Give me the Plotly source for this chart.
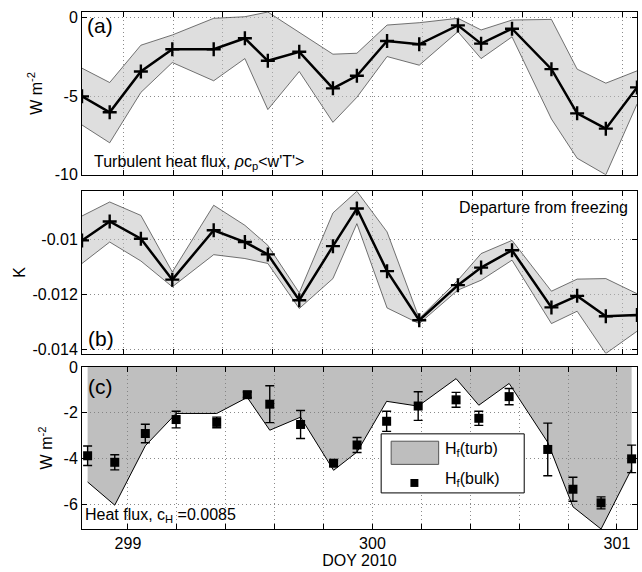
import plotly.graph_objects as go

# ---------------- data ----------------
doy = [298.835, 298.946, 299.071, 299.197, 299.363, 299.488, 299.580, 299.706, 299.841, 299.937,
       300.058, 300.187, 300.342, 300.435, 300.559, 300.717, 300.820, 300.935, 301.060]

turb_mean = [-5.02, -6.03, -3.44, -2.03, -2.03, -1.33, -2.76, -2.19, -4.51, -3.71,
             -1.50, -1.71, -0.51, -1.67, -0.72, -3.29, -6.10, -7.07, -4.45]
turb_upper = [-3.23, -4.14, -1.77, -1.12, -0.06, 0.04, 0.34, -0.97, -2.34, -2.28,
              -0.49, -0.34, -0.06, -0.80, -0.17, -0.13, -3.29, -4.18, -3.40]
turb_lower = [-6.84, -7.97, -4.77, -2.87, -4.03, -2.62, -5.86, -3.44, -6.67, -5.08,
              -2.49, -3.04, -0.91, -2.62, -1.24, -6.46, -8.95, -10.0, -5.51]

dT_mean = [-0.01004, -0.00935, -0.00998, -0.01147, -0.00967, -0.01010, -0.01055, -0.01222, -0.01025, -0.00888,
           -0.01116, -0.01295, -0.01167, -0.01103, -0.01040, -0.01248, -0.01206, -0.01280, -0.01276]
dT_upper = [-0.00915, -0.00864, -0.00913, -0.01119, -0.00876, -0.00949, -0.01022, -0.01195, -0.00904, -0.00825,
            -0.00973, -0.01288, -0.01149, -0.01052, -0.01004, -0.01189, -0.01145, -0.01143, -0.01198]
dT_lower = [-0.01088, -0.01010, -0.01079, -0.01173, -0.01056, -0.01070, -0.01088, -0.01252, -0.01143, -0.00943,
            -0.01250, -0.01307, -0.01185, -0.01149, -0.01076, -0.01307, -0.01262, -0.01416, -0.01335]

bulk_flux = [-3.875, -4.16, -2.905, -2.295, -2.42, -1.21, -1.625, -2.51, -4.20, -3.405,
             -2.37, -1.705, -1.435, -2.24, -1.295, -3.60, -5.335, -5.93, -4.01]
bulk_err = [0.425, 0.33, 0.405, 0.365, 0.23, 0.12, 0.805, 0.61, 0.12, 0.325,
            0.44, 0.625, 0.325, 0.31, 0.355, 1.15, 0.525, 0.26, 0.60]

x_grid_vals = [299.0, 299.2, 299.4, 299.6, 299.8, 300.0, 300.2, 300.4, 300.6, 300.8, 301.0]
x_grid_text = ["299", "", "", "", "", "300", "", "", "", "", "301"]
ya_ticks = [-10, -5, 0]
ya_text = ["-10", "-5", "0"]
yb_ticks = [-0.014, -0.012, -0.01]
yb_text = ["-0.014", "-0.012", "-0.01"]
yc_ticks = [-6, -4, -2, 0]
yc_text = ["-6", "-4", "-2", "0"]

# ---------------- layout constants ----------------
W, H = 642, 572
L, R, T, B = 82, 4, 9, 43
PW, PH = W - L - R, H - T - B
FONT = "Arial, Liberation Sans, sans-serif"


def px(xp):
    return (xp - L) / PW


def py(yp):
    return (H - B - yp) / PH


fig = go.Figure()

plus_marker = dict(symbol="cross-thin", size=10, line=dict(color="black", width=2.4))

# panel (a)
fig.add_trace(go.Scatter(x=doy, y=turb_lower, mode="lines", line=dict(color="#3a3a3a", width=0.7),
                         xaxis="x", yaxis="y", showlegend=False, hoverinfo="skip"))
fig.add_trace(go.Scatter(x=doy, y=turb_upper, mode="lines", line=dict(color="#3a3a3a", width=0.7),
                         fill="tonexty", fillcolor="rgba(190,190,190,0.5)",
                         xaxis="x", yaxis="y", showlegend=False))
fig.add_trace(go.Scatter(x=doy, y=turb_mean, mode="lines+markers",
                         line=dict(color="black", width=2.5), marker=plus_marker,
                         xaxis="x", yaxis="y", showlegend=False))

# panel (b)
fig.add_trace(go.Scatter(x=doy, y=dT_lower, mode="lines", line=dict(color="#3a3a3a", width=0.7),
                         xaxis="x2", yaxis="y2", showlegend=False))
fig.add_trace(go.Scatter(x=doy, y=dT_upper, mode="lines", line=dict(color="#3a3a3a", width=0.7),
                         fill="tonexty", fillcolor="rgba(190,190,190,0.5)",
                         xaxis="x2", yaxis="y2", showlegend=False))
fig.add_trace(go.Scatter(x=doy, y=dT_mean, mode="lines+markers",
                         line=dict(color="black", width=2.5), marker=plus_marker,
                         xaxis="x2", yaxis="y2", showlegend=False))

# panel (c)
fig.add_trace(go.Scatter(x=doy, y=[0 for _ in doy], mode="lines", line=dict(width=0, color="rgba(0,0,0,0)"),
                         xaxis="x3", yaxis="y3", showlegend=False, hoverinfo="skip"))
fig.add_trace(go.Scatter(x=doy, y=turb_mean, mode="lines", line=dict(color="black", width=1),
                         fill="tonexty", fillcolor="rgba(128,128,128,0.5)",
                         xaxis="x3", yaxis="y3", showlegend=False))
fig.add_trace(go.Scatter(x=doy, y=bulk_flux, mode="markers",
                         marker=dict(symbol="square", size=9, color="black"),
                         error_y=dict(type="data", array=bulk_err, color="black", thickness=1.4, width=4.5),
                         xaxis="x3", yaxis="y3", showlegend=False))

axis_common = dict(showline=True, linecolor="black", linewidth=1, mirror="ticks",
                   ticks="inside", ticklen=5, tickcolor="black", tickwidth=1,
                   showgrid=True, gridcolor="#8a8a8a", griddash="1px,3px", gridwidth=1,
                   zeroline=False, tickfont=dict(family=FONT, size=16, color="black"))

xa_range = [doy[0], doy[-1]]
xc_range = [298.812, 301.082]

dom_a = [py(172.7), py(T)]
dom_b = [py(352.5), py(189.3)]
dom_c = [0, py(366)]

fig.update_layout(
    width=W, height=H,
    margin=dict(l=L, r=R, t=T, b=B),
    paper_bgcolor="white", plot_bgcolor="white",
    font=dict(family=FONT, size=16, color="black"),
    xaxis=dict(axis_common, domain=[0, 1], range=xa_range, tickvals=x_grid_vals,
               showticklabels=False, anchor="y"),
    yaxis=dict(axis_common, domain=dom_a, range=[-10.0, 0.34], tickvals=ya_ticks, ticktext=ya_text,
               anchor="x", title=dict(text="W m<sup>-2</sup>", font=dict(size=16), standoff=8)),
    xaxis2=dict(axis_common, domain=[0, 1], range=xa_range, tickvals=x_grid_vals,
                showticklabels=False, anchor="y2"),
    yaxis2=dict(axis_common, domain=dom_b, range=[-0.01416, -0.00825], tickvals=yb_ticks, ticktext=yb_text,
                anchor="x2", title=dict(text="K", font=dict(size=16), standoff=2)),
    xaxis3=dict(axis_common, domain=[0, 1], range=xc_range, tickvals=x_grid_vals, ticktext=x_grid_text,
                anchor="y3", title=dict(text="DOY 2010", font=dict(size=16), standoff=2)),
    yaxis3=dict(axis_common, domain=dom_c, range=[-7.07, 0], tickvals=yc_ticks, ticktext=yc_text,
                anchor="x3", title=dict(text="W m<sup>-2</sup>", font=dict(size=16), standoff=6)),
)

ann = []


def text(xp, yp, s, size=16, xanchor="left"):
    ann.append(dict(x=px(xp), y=py(yp), xref="paper", yref="paper", text=s, showarrow=False,
                    xanchor=xanchor, yanchor="middle", font=dict(family=FONT, size=size, color="black")))


text(85, 23, "(a)", size=21)
text(86, 337, "(b)", size=21)
text(86, 386, "(c)", size=21)
text(92, 160, "Turbulent heat flux, <i>ρ</i>c<sub>p</sub>&lt;w'T'&gt;")
text(631, 206, "Departure from freezing", xanchor="right")
text(83, 515, "Heat flux, c<sub>H</sub> =0.0085")
text(444, 449, "H<sub>f</sub>(turb)")
text(444, 479, "H<sub>f</sub>(bulk)")

shapes = [
    dict(type="rect", xref="paper", yref="paper", x0=px(381.7), x1=px(525), y0=py(492.7), y1=py(433.3),
         fillcolor="white", line=dict(color="black", width=1), layer="above"),
    dict(type="rect", xref="paper", yref="paper", x0=px(391.7), x1=px(439.3), y0=py(464), y1=py(440.7),
         fillcolor="#bebebe", line=dict(color="#555555", width=1), layer="above"),
    dict(type="rect", xref="paper", yref="paper", x0=px(411), x1=px(419), y0=py(486.7), y1=py(478.7),
         fillcolor="black", line=dict(color="black", width=0), layer="above"),
]

fig.update_layout(annotations=ann, shapes=shapes)

fig.write_html("out.html", config={"displayModeBar": False},
               post_script="document.body.style.margin='0';document.body.style.overflow='hidden';")
